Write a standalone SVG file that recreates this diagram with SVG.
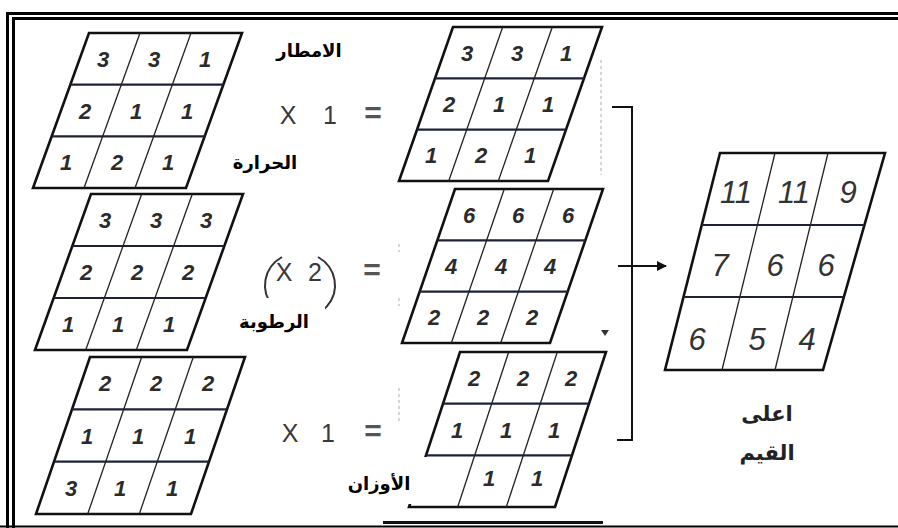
<svg xmlns="http://www.w3.org/2000/svg" width="898" height="528" viewBox="0 0 898 528">
<style>
.frame{fill:none;stroke:#000;stroke-width:3}
.bd{fill:none;stroke:#111;stroke-width:2.6;stroke-linejoin:miter}
.rw{stroke:#1d2238;stroke-width:2.2}
.cl{stroke:#222;stroke-width:1.3}
.n{font-family:"Liberation Sans",Arial,sans-serif;font-style:italic;font-weight:bold;font-size:22px;fill:#2b2b2b;text-anchor:middle}
.b{font-size:31px;font-weight:normal;fill:#333}
.op{font-family:"Liberation Sans",Arial,sans-serif;font-size:25px;fill:#3a3a3a;text-anchor:middle}
.eq{font-family:"Liberation Sans",Arial,sans-serif;font-size:30px;font-weight:bold;fill:#555;text-anchor:middle}
.ar{font-family:"DejaVu Sans","Noto Sans",sans-serif;font-weight:bold;font-size:18px;fill:#000;text-anchor:middle}
.ar2{font-family:"DejaVu Sans","Noto Sans",sans-serif;font-weight:bold;font-size:21px;fill:#222;text-anchor:middle}
.faint{stroke:#aaa;stroke-width:1;stroke-dasharray:3 3}
.cn{fill:none;stroke:#111;stroke-width:2}
</style>
<defs>
<marker id="ah" viewBox="0 0 10 10" refX="9" refY="5" markerWidth="5" markerHeight="5" orient="auto" markerUnits="strokeWidth">
<path d="M0,0 L10,5 L0,10 z" fill="#111"/>
</marker>
</defs>
<rect width="898" height="528" fill="#fff"/>

<g id="frame">
<path class="frame" d="M7.5,528 V13.5 H898"/>
<path class="frame" d="M13.5,528 V18.5 H898"/>
<line x1="0" y1="526.5" x2="898" y2="526.5" stroke="#000" stroke-width="2"/>
</g>

<g id="grid-rain">
<polygon class="bd" points="89,33 242,33 186,188 33,188"/>
<line class="rw" x1="70.3" y1="84.7" x2="223.3" y2="84.7"/>
<line class="rw" x1="51.7" y1="136.3" x2="204.7" y2="136.3"/>
<line class="cl" x1="140" y1="33" x2="84" y2="188"/>
<line class="cl" x1="191" y1="33" x2="135" y2="188"/>
<text class="n" x="103" y="67">3</text><text class="n" x="154" y="67">3</text><text class="n" x="205" y="67">1</text>
<text class="n" x="85" y="118.5">2</text><text class="n" x="136" y="118.5">1</text><text class="n" x="187" y="118.5">1</text>
<text class="n" x="66" y="170">1</text><text class="n" x="117" y="170">2</text><text class="n" x="168" y="170">1</text>
</g>

<g id="grid-temp">
<polygon class="bd" points="91,194 243,194 187,350 35,350"/>
<line class="rw" x1="72.3" y1="246" x2="224.3" y2="246"/>
<line class="rw" x1="53.7" y1="298" x2="205.7" y2="298"/>
<line class="cl" x1="141.7" y1="194" x2="85.7" y2="350"/>
<line class="cl" x1="192.3" y1="194" x2="136.3" y2="350"/>
<text class="n" x="105" y="228">3</text><text class="n" x="156" y="228">3</text><text class="n" x="206" y="228">3</text>
<text class="n" x="86" y="280">2</text><text class="n" x="137" y="280">2</text><text class="n" x="188" y="280">2</text>
<text class="n" x="68" y="332">1</text><text class="n" x="118" y="332">1</text><text class="n" x="169" y="332">1</text>
</g>

<g id="grid-humid">
<polygon class="bd" points="90,357 245,357 191,514 36,514"/>
<line class="rw" x1="72" y1="409.3" x2="227" y2="409.3"/>
<line class="rw" x1="54" y1="461.7" x2="209" y2="461.7"/>
<line class="cl" x1="141.7" y1="357" x2="87.7" y2="514"/>
<line class="cl" x1="193.3" y1="357" x2="139.3" y2="514"/>
<text class="n" x="105" y="391">2</text><text class="n" x="156" y="391">2</text><text class="n" x="208" y="391">2</text>
<text class="n" x="87" y="443.5">1</text><text class="n" x="138" y="443.5">1</text><text class="n" x="190" y="443.5">1</text>
<text class="n" x="71" y="496">3</text><text class="n" x="120" y="496">1</text><text class="n" x="172" y="496">1</text>
</g>

<g id="op-1">
<text class="op" x="288" y="124">X</text><text class="op" x="330" y="124">1</text><text class="eq" x="373" y="123">=</text>
</g>
<g id="op-2">
<path d="M318,257 A35,33 0 1 1 282,257" fill="none" stroke="#333" stroke-width="2"/>
<text class="op" x="284" y="281">X</text><text class="op" x="315" y="281">2</text><text class="eq" x="372" y="280">=</text>
</g>
<g id="op-3">
<text class="op" x="290" y="442">X</text><text class="op" x="328" y="442">1</text><text class="eq" x="373" y="441">=</text>
</g>

<g id="grid-rain-w">
<polygon class="bd" points="453,27 602,27 548,181 399,181"/>
<line class="rw" x1="435" y1="78.3" x2="584" y2="78.3"/>
<line class="rw" x1="417" y1="129.7" x2="566" y2="129.7"/>
<line class="cl" x1="502.7" y1="27" x2="448.7" y2="181"/>
<line class="cl" x1="552.3" y1="27" x2="498.3" y2="181"/>
<text class="n" x="467" y="61">3</text><text class="n" x="517" y="61">3</text><text class="n" x="566" y="61">1</text>
<text class="n" x="449" y="112">2</text><text class="n" x="499" y="112">1</text><text class="n" x="548" y="112">1</text>
<text class="n" x="431" y="163">1</text><text class="n" x="481" y="163">2</text><text class="n" x="530" y="163">1</text>
</g>

<g id="grid-temp-w">
<polygon class="bd" points="455,189 603,189 550,343 402,343"/>
<line class="rw" x1="437.3" y1="240.3" x2="585.3" y2="240.3"/>
<line class="rw" x1="419.7" y1="291.7" x2="567.7" y2="291.7"/>
<line class="cl" x1="504.3" y1="189" x2="451.3" y2="343"/>
<line class="cl" x1="553.7" y1="189" x2="500.7" y2="343"/>
<text class="n" x="469" y="223">6</text><text class="n" x="518" y="223">6</text><text class="n" x="568" y="223">6</text>
<text class="n" x="451" y="274">4</text><text class="n" x="501" y="274">4</text><text class="n" x="550" y="274">4</text>
<text class="n" x="434" y="325">2</text><text class="n" x="483" y="325">2</text><text class="n" x="532" y="325">2</text>
</g>

<g id="grid-humid-w">
<polygon class="bd" points="460,352 606,352 555,507 409,507"/>
<line class="rw" x1="443" y1="403.7" x2="589" y2="403.7"/>
<line class="rw" x1="426" y1="455.3" x2="572" y2="455.3"/>
<line class="cl" x1="508.7" y1="352" x2="457.7" y2="507"/>
<line class="cl" x1="557.3" y1="352" x2="506.3" y2="507"/>
<text class="n" x="474" y="386">2</text><text class="n" x="523" y="386">2</text><text class="n" x="571" y="386">2</text>
<text class="n" x="457" y="437.5">1</text><text class="n" x="506" y="437.5">1</text><text class="n" x="554" y="437.5">1</text>
<text class="n" x="489" y="486">1</text><text class="n" x="537" y="486">1</text>
</g>

<g id="grid-next-edge">
<line x1="383" y1="522.5" x2="603" y2="522.5" stroke="#111" stroke-width="3"/>
</g>

<g id="grid-result">
<polygon class="bd" points="720,153 885,153 823,370 665,370"/>
<line class="rw" x1="701.8" y1="225" x2="864.4" y2="225"/>
<line class="rw" x1="683.5" y1="297" x2="843.9" y2="297" stroke-width="1.6"/>
<line class="cl" x1="775" y1="153" x2="722" y2="370"/>
<line class="cl" x1="828" y1="153" x2="775" y2="370"/>
<text class="n b" x="736" y="203">11</text><text class="n b" x="794" y="203">11</text><text class="n b" x="848" y="203">9</text>
<text class="n b" x="720" y="276">7</text><text class="n b" x="775" y="276">6</text><text class="n b" x="826" y="276">6</text>
<text class="n b" x="697" y="350">6</text><text class="n b" x="757" y="350">5</text><text class="n b" x="807" y="350">4</text>
</g>

<g id="marks">
<line class="faint" x1="601" y1="60" x2="601" y2="175"/>
<line class="faint" x1="399" y1="388" x2="399" y2="422"/>
<line class="faint" x1="399" y1="244" x2="399" y2="252"/>
<line class="faint" x1="399" y1="298" x2="399" y2="306"/>
<path d="M601,330 L609,330 L605,336 z" fill="#333"/>
</g>

<g id="connectors">
<path class="cn" d="M612,107 H632 V440 H617"/>
<line class="cn" x1="618" y1="266" x2="666" y2="266" marker-end="url(#ah)"/>
</g>

<g id="label-rain">
<text class="ar" x="309" y="57">الامطار</text>
</g>
<g id="label-temp">
<text class="ar" x="265" y="169">الحرارة</text>
</g>
<g id="label-humid">
<rect x="208" y="298" width="117" height="49" fill="#fff"/>
<text class="ar" x="274" y="328">الرطوبة</text>
</g>
<g id="label-weight">
<rect x="330" y="457" width="123" height="47" fill="#fff"/>
<text class="ar" x="379" y="490">الأوزان</text>
</g>
<g id="label-max">
<text class="ar2" x="767" y="421">اعلى</text>
<text class="ar2" x="767" y="460">القيم</text>
</g>
</svg>
